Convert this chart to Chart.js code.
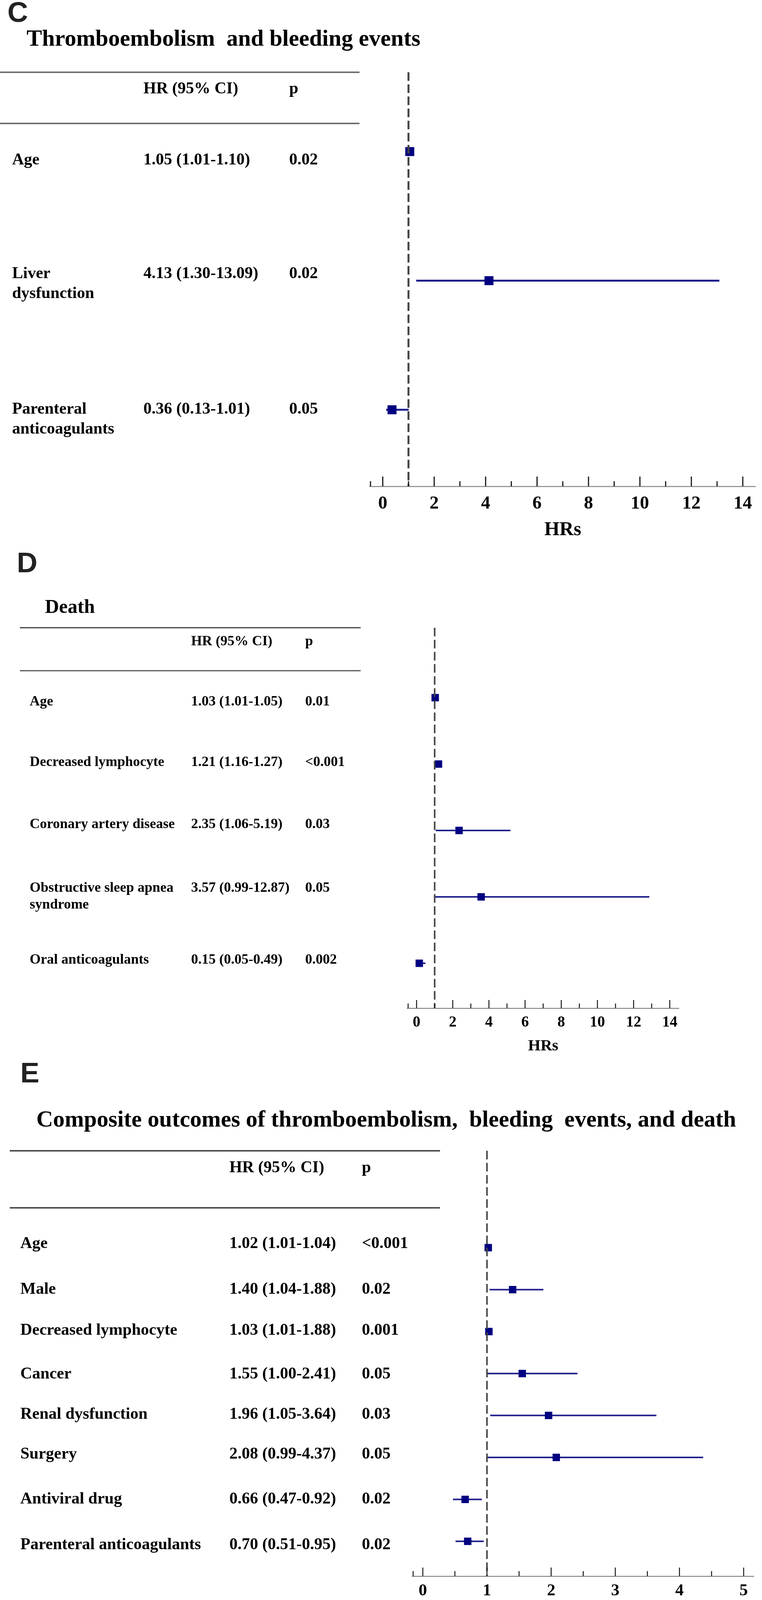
<!DOCTYPE html>
<html><head><meta charset="utf-8">
<script src="https://cdn.jsdelivr.net/npm/chart.js@4.4.1/dist/chart.umd.min.js"></script>
<style>
html,body{margin:0;padding:0;background:#fff;}
body{width:1950px;height:4149px;overflow:hidden;position:relative;}
canvas{position:absolute;left:0;}
</style></head><body>
<canvas id="cC" width="1950" height="1400" style="top:0px"></canvas>
<canvas id="cD" width="1950" height="1300" style="top:1400px"></canvas>
<canvas id="cE" width="1950" height="1460" style="top:2700px"></canvas>
<script>
// ================= DATA =================
// Panel C
const titleC = "Thromboembolism  and bleeding events";
const labelsC = [["Age"], ["Liver", "dysfunction"], ["Parenteral", "anticoagulants"]];
const hrTextC = ["1.05 (1.01-1.10)", "4.13 (1.30-13.09)", "0.36 (0.13-1.01)"];
const pTextC = ["0.02", "0.02", "0.05"];
const hrC = [1.05, 4.13, 0.36];
const loC = [1.01, 1.30, 0.13];
const hiC = [1.10, 13.09, 1.01];
const ticksC = [0, 2, 4, 6, 8, 10, 12, 14];
const minorTicksC = [1, 3, 5, 7, 9, 11, 13];

// Panel D
const titleD = "Death";
const labelsD = [["Age"], ["Decreased lymphocyte"], ["Coronary artery disease"], ["Obstructive sleep apnea", "syndrome"], ["Oral anticoagulants"]];
const hrTextD = ["1.03 (1.01-1.05)", "1.21 (1.16-1.27)", "2.35 (1.06-5.19)", "3.57 (0.99-12.87)", "0.15 (0.05-0.49)"];
const pTextD = ["0.01", "<0.001", "0.03", "0.05", "0.002"];
const hrD = [1.03, 1.21, 2.35, 3.57, 0.15];
const loD = [1.01, 1.16, 1.06, 0.99, 0.05];
const hiD = [1.05, 1.27, 5.19, 12.87, 0.49];
const ticksD = [0, 2, 4, 6, 8, 10, 12, 14];
const minorTicksD = [1, 3, 5, 7, 9, 11, 13];

// Panel E
const titleE = "Composite outcomes of thromboembolism,  bleeding  events, and death";
const labelsE = [["Age"], ["Male"], ["Decreased lymphocyte"], ["Cancer"], ["Renal dysfunction"], ["Surgery"], ["Antiviral drug"], ["Parenteral anticoagulants"]];
const hrTextE = ["1.02 (1.01-1.04)", "1.40 (1.04-1.88)", "1.03 (1.01-1.88)", "1.55 (1.00-2.41)", "1.96 (1.05-3.64)", "2.08 (0.99-4.37)", "0.66 (0.47-0.92)", "0.70 (0.51-0.95)"];
const pTextE = ["<0.001", "0.02", "0.001", "0.05", "0.03", "0.05", "0.02", "0.02"];
const hrE = [1.02, 1.40, 1.03, 1.55, 1.96, 2.08, 0.66, 0.70];
const loE = [1.01, 1.04, 1.01, 1.00, 1.05, 0.99, 0.47, 0.51];
const hiE = [1.04, 1.88, 1.05, 2.41, 3.64, 4.37, 0.92, 0.95]; // whiskers as drawn in the plot
const ticksE = [0, 1, 2, 3, 4, 5];
const minorTicksE = [0.5, 1.5, 2.5, 3.5, 4.5];

// ================= LAYOUT / STYLE (page coordinates) =================
const SERIF = '"Liberation Serif", "Times New Roman", serif';
const SANS = '"Liberation Sans", Arial, sans-serif';

const LAYOUT = {
  C: {
    canvasTop: 0, canvasH: 1400, letter: "C", letterX: 19, letterBase: 56,
    titleX: 68, titleBase: 117, titleW: 1008, titleSize: 58,
    lines: [{y: 185, x0: 0, x1: 920, w: 4, c: '#707070'}, {y: 316, x0: 0, x1: 920, w: 4, c: '#707070'}],
    headBase: 239, colLabel: 31, colHR: 367, colP: 740, fontSize: 42, lineGap: 51,
    textBase: [421, 712, 1059],
    plotLeft: 946.6, plotRight: 1948.4, plotTop: 185, plotBottom: 1245,
    rowFirst: 388, rowStep: 330.5, xMin: -0.5, xMax: 14.5,
    tickSize: 47, tickPad: 21.5, axisTitleSize: 50, axisTitleMid: 1357,
    majorLen: 25, minorLen: 13, tickW: 3,
    sq: 23, ciW: 5, dashW: 5
  },
  D: {
    canvasTop: 1400, canvasH: 1300, letter: "D", letterX: 43, letterBase: 1465,
    titleX: 115, titleBase: 1569, titleW: 0, titleSize: 50,
    lines: [{y: 1607, x0: 51, x1: 923, w: 2.5, c: '#1e1e1e'}, {y: 1717, x0: 51, x1: 923, w: 3, c: '#555555'}],
    headBase: 1652, colLabel: 76, colHR: 489, colP: 781, fontSize: 36, lineGap: 43,
    textBase: [1806, 1961, 2120, 2283, 2467],
    plotLeft: 1042.9, plotRight: 1737.1, plotTop: 1607, plotBottom: 2581,
    rowFirst: 1786, rowStep: 170, xMin: -0.5, xMax: 14.5,
    tickSize: 39, tickPad: 17.5, axisTitleSize: 41, axisTitleMid: 2678,
    majorLen: 21, minorLen: 12, tickW: 2.5,
    sq: 19, ciW: 4, dashW: 4
  },
  E: {
    canvasTop: 2700, canvasH: 1460, letter: "E", letterX: 52, letterBase: 2771,
    titleX: 93, titleBase: 2884, titleW: 1791, titleSize: 58,
    lines: [{y: 2946, x0: 25, x1: 1126, w: 4, c: '#505050'}, {y: 3092, x0: 25, x1: 1126, w: 4, c: '#505050'}],
    headBase: 3001, colLabel: 52, colHR: 587, colP: 926, fontSize: 42, lineGap: 50,
    textBase: [3195, 3312, 3417, 3529, 3632, 3734, 3849, 3966],
    plotLeft: 1055.7, plotRight: 1929.3, plotTop: 2946, plotBottom: 4035,
    rowFirst: 3194, rowStep: 107.4, xMin: -0.16, xMax: 5.16,
    tickSize: 43, tickPad: 16.5, axisTitleSize: 40, axisTitleMid: 4134,
    majorLen: 22, minorLen: 13, tickW: 2.5,
    sq: 19, ciW: 4, dashW: 4
  }
};

const PANELS = {
  C: {title: titleC, labels: labelsC, hrText: hrTextC, pText: pTextC, hr: hrC, lo: loC, hi: hiC, ticks: ticksC, minor: minorTicksC},
  D: {title: titleD, labels: labelsD, hrText: hrTextD, pText: pTextD, hr: hrD, lo: loD, hi: hiD, ticks: ticksD, minor: minorTicksD},
  E: {title: titleE, labels: labelsE, hrText: hrTextE, pText: pTextE, hr: hrE, lo: loE, hi: hiE, ticks: ticksE, minor: minorTicksE}
};

function buildChart(key, canvasId) {
  const L = LAYOUT[key], d = PANELS[key];
  const top = L.canvasTop;
  const yMin = (L.plotTop - L.rowFirst) / L.rowStep;
  const yMax = (L.plotBottom - L.rowFirst) / L.rowStep;
  const axisH = L.axisTitleMid + L.axisTitleSize / 2 - L.plotBottom;
  const padBottom = top + L.canvasH - (L.plotBottom + axisH);

  const datasets = [];
  datasets.push({
    type: 'line', data: [{x: 1, y: yMin}, {x: 1, y: yMax}],
    borderColor: '#454545', borderWidth: L.dashW, borderDash: [22, 9],
    pointRadius: 0, order: 0, clip: false
  });
  datasets.push({
    type: 'scatter', data: d.hr.map((v, i) => ({x: v, y: i})),
    pointStyle: 'rect', pointRadius: L.sq / Math.SQRT2, pointHoverRadius: L.sq / Math.SQRT2,
    backgroundColor: '#000080', borderWidth: 0, order: 1
  });
  d.lo.forEach((lo, i) => {
    datasets.push({
      type: 'line', data: [{x: lo, y: i}, {x: d.hi[i], y: i}],
      borderColor: '#1f1f8c', borderWidth: L.ciW, borderCapStyle: 'butt',
      pointRadius: 0, order: 2
    });
  });

  const decor = {
    id: 'decor' + key,
    afterDraw(chart) {
      const ctx = chart.ctx;
      const xs = chart.scales.x;
      const axisY = chart.chartArea.bottom;
      ctx.save();
      // axis tick marks (pointing up)
      ctx.strokeStyle = '#1a1a1a';
      ctx.lineWidth = L.tickW;
      const mark = (v, len) => {
        const px = xs.getPixelForValue(v);
        ctx.beginPath(); ctx.moveTo(px, axisY); ctx.lineTo(px, axisY - len); ctx.stroke();
      };
      d.ticks.forEach(v => mark(v, L.majorLen));
      d.minor.forEach(v => mark(v, L.minorLen));
      ctx.beginPath();
      ctx.moveTo(chart.chartArea.left + 1.5, axisY);
      ctx.lineTo(chart.chartArea.left + 1.5, axisY - L.minorLen);
      ctx.stroke();

      // panel letter
      ctx.fillStyle = '#222';
      ctx.textBaseline = 'alphabetic';
      ctx.textAlign = 'left';
      ctx.font = 'bold 73px ' + SANS;
      ctx.fillText(L.letter, L.letterX, L.letterBase - top);

      // title
      ctx.fillStyle = '#000';
      let ts = L.titleSize;
      if (L.titleW) {
        ctx.font = 'bold 100px ' + SERIF;
        ts = 100 * L.titleW / ctx.measureText(d.title).width;
      }
      ctx.font = 'bold ' + ts + 'px ' + SERIF;
      ctx.fillText(d.title, L.titleX, L.titleBase - top);

      // table rules
      L.lines.forEach(ln => {
        ctx.strokeStyle = ln.c; ctx.lineWidth = ln.w;
        ctx.beginPath(); ctx.moveTo(ln.x0, ln.y - top); ctx.lineTo(ln.x1, ln.y - top); ctx.stroke();
      });

      // header and rows
      ctx.fillStyle = '#000';
      ctx.font = 'bold ' + L.fontSize + 'px ' + SERIF;
      ctx.fillText('HR (95% CI)', L.colHR, L.headBase - top);
      ctx.fillText('p', L.colP, L.headBase - top);
      d.labels.forEach((lab, i) => {
        const b = L.textBase[i] - top;
        lab.forEach((line, j) => ctx.fillText(line, L.colLabel, b + j * L.lineGap));
        ctx.fillText(d.hrText[i], L.colHR, b);
        ctx.fillText(d.pText[i], L.colP, b);
      });
      ctx.restore();
    }
  };

  return new Chart(document.getElementById(canvasId), {
    type: 'scatter',
    data: {datasets},
    options: {
      responsive: false, animation: false, devicePixelRatio: 1, events: [],
      layout: {padding: {left: L.plotLeft, right: 1950 - L.plotRight, top: L.plotTop - top, bottom: padBottom}},
      plugins: {legend: {display: false}, tooltip: {enabled: false}},
      scales: {
        x: {
          type: 'linear', position: 'bottom', min: L.xMin, max: L.xMax,
          afterBuildTicks: s => { s.ticks = d.ticks.map(v => ({value: v})); },
          afterFit: s => { s.height = axisH; },
          grid: {display: false, drawTicks: false},
          border: {display: true, color: '#9a9a9a', width: 3},
          ticks: {
            color: '#000', autoSkip: false, maxRotation: 0, padding: L.tickPad,
            font: {family: SERIF, weight: 'bold', size: L.tickSize, lineHeight: 1},
            callback: v => String(v)
          },
          title: {
            display: true, text: 'HRs', color: '#000', padding: {top: 0, bottom: 0},
            font: {family: SERIF, weight: 'bold', size: L.axisTitleSize, lineHeight: 1}
          }
        },
        y: {type: 'linear', display: false, min: yMin, max: yMax, reverse: true}
      }
    },
    plugins: [decor]
  });
}

buildChart('C', 'cC');
buildChart('D', 'cD');
buildChart('E', 'cE');
</script>
</body></html>
